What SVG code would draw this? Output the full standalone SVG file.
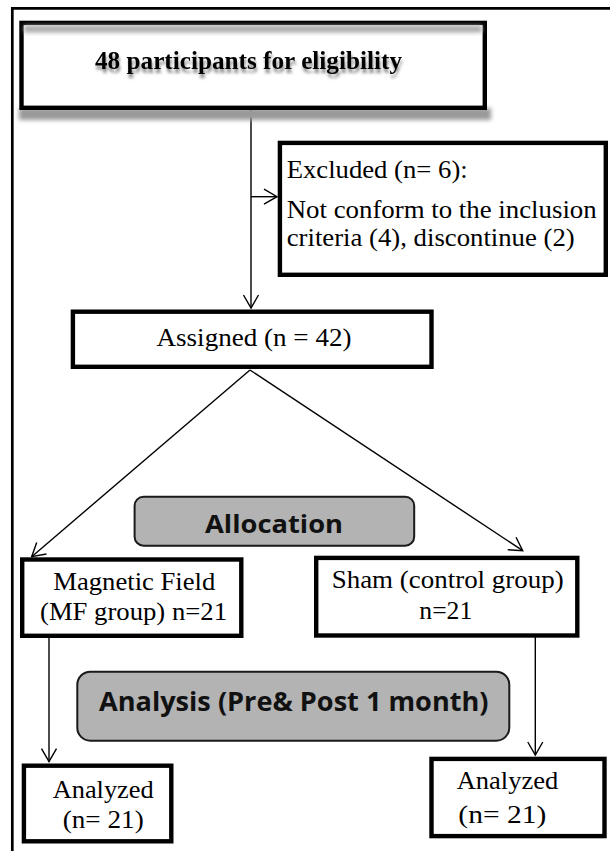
<svg xmlns="http://www.w3.org/2000/svg" width="610" height="851" viewBox="0 0 610 851">
<style>
.box{fill:#fff;stroke:#000;stroke-width:4.4}
.pill{fill:#b3b3b3;stroke:#1a1a1a;stroke-width:2}
.t{font-family:"Liberation Serif","Times New Roman",serif;font-size:26px;fill:#000}
.tb{font-family:"Open Sans","Liberation Sans",sans-serif;font-weight:bold;fill:#111}
.conn{fill:none;stroke:#000;stroke-width:1.4}
</style>
<defs>
<marker id="arr" markerUnits="userSpaceOnUse" markerWidth="20" markerHeight="20" viewBox="-15 -10 20 20" refX="0" refY="0" orient="auto">
<path d="M-13,-7.5 L0,0 L-13,7.5" fill="none" stroke="#000" stroke-width="1.4"/>
</marker>
<filter id="blur" x="-10%" y="-50%" width="120%" height="200%"><feGaussianBlur stdDeviation="2"/></filter>
<filter id="tshadow" x="-5%" y="-30%" width="110%" height="180%">
<feGaussianBlur in="SourceAlpha" stdDeviation="1.6"/>
<feOffset dx="1" dy="4" result="b"/>
<feComponentTransfer in="b" result="s"><feFuncA type="linear" slope="0.45"/></feComponentTransfer>
<feMerge><feMergeNode in="s"/><feMergeNode in="SourceGraphic"/></feMerge>
</filter>
</defs>
<rect width="610" height="851" fill="#fff"/>
<path d="M12.3,851 V8.3 H610" fill="none" stroke="#000" stroke-width="2.7"/>

<g id="connectors">
<path class="conn" d="M251,110 V308" marker-end="url(#arr)"/>
<path class="conn" d="M251,196.7 H277" marker-end="url(#arr)"/>
<path class="conn" d="M250,370 L31.7,556.7" marker-end="url(#arr)"/>
<path class="conn" d="M250,370 L522.7,550.7" marker-end="url(#arr)"/>
<path class="conn" d="M49,638 V761.7" marker-end="url(#arr)"/>
<path class="conn" d="M535.3,637 V755" marker-end="url(#arr)"/>
</g>

<g id="eligibility">
<rect x="19" y="108" width="472" height="12" fill="#999" filter="url(#blur)"/>
<rect class="box" x="21.5" y="22.9" width="463.3" height="84.9"/>
<rect x="24" y="25.5" width="458" height="7" fill="#aaa" filter="url(#blur)"/>
<text class="t" x="95" y="69" font-size="24" font-weight="bold" textLength="307" lengthAdjust="spacingAndGlyphs" filter="url(#tshadow)">48 participants for eligibility</text>
</g>

<g id="excluded">
<rect class="box" x="279.9" y="142.9" width="325.9" height="131.9"/>
<text class="t" x="286.7" y="178" textLength="181" lengthAdjust="spacingAndGlyphs">Excluded (n= 6):</text>
<text class="t" x="286.7" y="218" textLength="310" lengthAdjust="spacingAndGlyphs">Not conform to the inclusion</text>
<text class="t" x="286.7" y="246" textLength="288" lengthAdjust="spacingAndGlyphs">criteria (4), discontinue (2)</text>
</g>

<g id="assigned">
<rect class="box" x="72.9" y="311.7" width="358.6" height="55.1"/>
<text class="t" x="156.5" y="346" textLength="195" lengthAdjust="spacingAndGlyphs">Assigned (n = 42)</text>
</g>

<g id="allocation">
<rect class="pill" x="134.6" y="496.7" width="279.6" height="49" rx="9"/>
<text class="tb" x="205" y="532.5" font-size="25" textLength="138" lengthAdjust="spacingAndGlyphs">Allocation</text>
</g>

<g id="mf">
<rect class="box" x="22.2" y="559.5" width="219.1" height="76.3"/>
<text class="t" x="53.3" y="590" textLength="162" lengthAdjust="spacingAndGlyphs">Magnetic Field</text>
<text class="t" x="40" y="620" textLength="187" lengthAdjust="spacingAndGlyphs">(MF group) n=21</text>
</g>

<g id="sham">
<rect class="box" x="316.2" y="557.9" width="261.1" height="77.6"/>
<text class="t" x="331.7" y="588" textLength="232" lengthAdjust="spacingAndGlyphs">Sham (control group)</text>
<text class="t" x="419.3" y="619" textLength="53" lengthAdjust="spacingAndGlyphs">n=21</text>
</g>

<g id="analysis">
<rect class="pill" x="77.3" y="671.7" width="432" height="69" rx="13"/>
<text class="tb" x="99" y="711" font-size="27" textLength="389.5" lengthAdjust="spacingAndGlyphs">Analysis (Pre&amp; Post 1 month)</text>
</g>

<g id="analyzed-mf">
<rect class="box" x="23.9" y="765.7" width="147.4" height="75.6"/>
<text class="t" x="52.7" y="797.5" textLength="101" lengthAdjust="spacingAndGlyphs">Analyzed</text>
<text class="t" x="62.7" y="827.5" textLength="81" lengthAdjust="spacingAndGlyphs">(n= 21)</text>
</g>

<g id="analyzed-sham">
<rect class="box" x="431.5" y="758.9" width="173" height="77.2"/>
<text class="t" x="456.7" y="789" textLength="101.6" lengthAdjust="spacingAndGlyphs">Analyzed</text>
<text class="t" x="458.3" y="822.5" textLength="88" lengthAdjust="spacingAndGlyphs">(n= 21)</text>
</g>
</svg>
